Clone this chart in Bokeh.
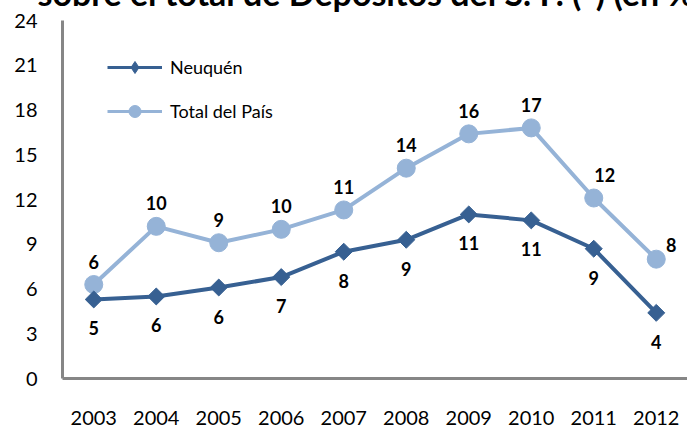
import math
from bokeh.plotting import figure
from bokeh.models import FactorRange, FixedTicker, Legend, LegendItem, ColumnDataSource
from bokeh.embed import file_html
from bokeh.resources import INLINE
from bokeh.core.properties import value

years = ["2003", "2004", "2005", "2006", "2007", "2008", "2009", "2010", "2011", "2012"]
neuquen = [5.3, 5.5, 6.1, 6.8, 8.5, 9.3, 11.0, 10.6, 8.7, 4.4]
total = [6.3, 10.2, 9.1, 10.0, 11.3, 14.1, 16.4, 16.8, 12.1, 8.0]
neuquen_labels = ["5", "6", "6", "7", "8", "9", "11", "11", "9", "4"]
total_labels = ["6", "10", "9", "10", "11", "14", "16", "17", "12", "8"]
y_ticks = [0, 3, 6, 9, 12, 15, 18, 21, 24]
series_names = ["Neuquén", "Total del País"]
title_text = "sobre el total de Depósitos del S. F. (*) (en %)"

DARK = "#376092"
LIGHT = "#95B3D7"
GREY = "#868686"
FONT = "Lato"

TOP = 64  # top border; the part above the page is hidden by a negative margin
p = figure(x_range=FactorRange(*years), y_range=(0, 24), width=687, height=408 + TOP,
           output_backend="svg", toolbar_location=None,
           min_border_left=62, min_border_right=0, min_border_top=TOP, min_border_bottom=50)
p.styles = {"margin-top": f"-{TOP - 20}px"}
p.grid.visible = False
p.outline_line_color = None
p.background_fill_color = "white"
p.border_fill_color = "white"

p.title.text = title_text
p.title.text_font = FONT
p.title.text_font_size = "34px"
p.title.text_font_style = "bold"
p.title.text_color = "black"
p.title.align = "left"
p.title.offset = -25
p.title.standoff = 16

for ax in (p.xaxis[0], p.yaxis[0]):
    ax.axis_line_color = GREY
    ax.axis_line_width = 3
    ax.major_tick_line_color = None
    ax.minor_tick_line_color = None
    ax.major_tick_out = 0
    ax.major_tick_in = 0
    ax.minor_tick_out = 0
    ax.minor_tick_in = 0
    ax.major_label_text_font = FONT
    ax.major_label_text_font_size = "20px"
    ax.major_label_text_color = "black"
p.xaxis[0].major_label_standoff = 32
p.yaxis[0].major_label_standoff = 25
p.yaxis[0].ticker = FixedTicker(ticks=y_ticks)

rt_line = p.line(years, total, line_color=LIGHT, line_width=4)
rt_pts = p.scatter(years, total, marker="circle", size=18, fill_color=LIGHT, line_color=LIGHT)
rn_line = p.line(years, neuquen, line_color=DARK, line_width=4)
rn_pts = p.scatter(years, neuquen, marker="square", angle=math.pi / 4, size=12,
                   fill_color=DARK, line_color=DARK)

# legend-only glyphs (a single undefined point, nothing is drawn in the plot)
nan = float("nan")
lg_n_line = p.line(x=[years[0]], y=[nan], line_color=DARK, line_width=3)
lg_n_pt = p.scatter(x=[years[0]], y=[nan], marker="diamond", fill_color=DARK, line_color=DARK)
lg_t_line = p.line(x=[years[0]], y=[nan], line_color=LIGHT, line_width=3)
lg_t_pt = p.scatter(x=[years[0]], y=[nan], marker="circle", fill_color=LIGHT, line_color=LIGHT)

n = len(years)
t_xoff = [0] * n
t_yoff = [-23] * n
t_xoff[n - 2] = 11
t_xoff[n - 1] = 15
t_yoff[n - 1] = -14
src_t = ColumnDataSource(dict(x=years, y=total, text=total_labels, xo=t_xoff, yo=t_yoff))
p.text(x="x", y="y", text="text", x_offset="xo", y_offset="yo", source=src_t,
       text_font=value(FONT), text_font_style="bold", text_font_size="18px",
       text_align="center", text_baseline="middle", text_color="black")

src_n = ColumnDataSource(dict(x=years, y=neuquen, text=neuquen_labels))
p.text(x="x", y="y", text="text", y_offset=29, source=src_n,
       text_font=value(FONT), text_font_style="bold", text_font_size="18px",
       text_align="center", text_baseline="middle", text_color="black")

legend = Legend(items=[LegendItem(label=series_names[0], renderers=[lg_n_line, lg_n_pt]),
                       LegendItem(label=series_names[1], renderers=[lg_t_line, lg_t_pt])],
                location=(45, 252), orientation="vertical",
                glyph_width=55, glyph_height=30, label_height=30, spacing=14,
                label_standoff=8, padding=0, margin=0,
                border_line_color=None, background_fill_alpha=0,
                label_text_font=FONT, label_text_font_size="18px", label_text_color="black")
p.add_layout(legend, "center")

open("out.html", "w").write(file_html(p, INLINE))
